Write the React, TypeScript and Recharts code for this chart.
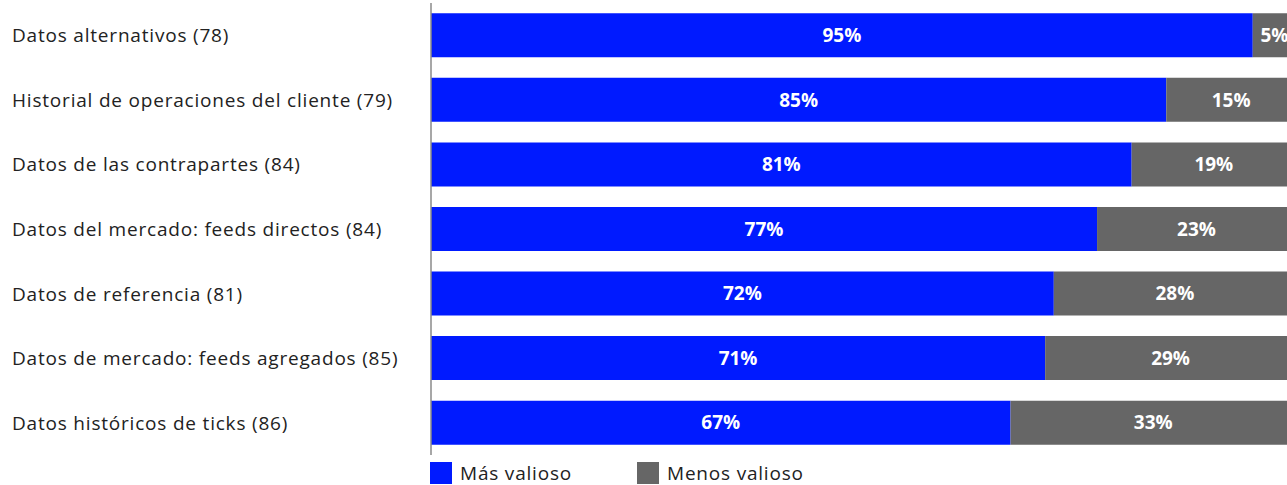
import { BarChart, Bar, XAxis, YAxis, LabelList, Legend } from "recharts";

const categories = [
  "Datos alternativos (78)",
  "Historial de operaciones del cliente (79)",
  "Datos de las contrapartes (84)",
  "Datos del mercado: feeds directos (84)",
  "Datos de referencia (81)",
  "Datos de mercado: feeds agregados (85)",
  "Datos históricos de ticks (86)",
];
const masValioso = [95, 85, 81, 77, 72, 71, 67];
const menosValioso = [5, 15, 19, 23, 28, 29, 33];
const seriesOrder = ["Más valioso", "Menos valioso"];

const BLUE = "#001aff";
const GREY = "#666666";
const FONT = "'Open Sans', sans-serif";

const data = categories.map((name, i) => ({ name, mas: masValioso[i], menos: menosValioso[i] }));

function LeftTick({ y, payload }: any) {
  return (
    <text x={12} y={y} dy={7} textAnchor="start" fill="#222" fontSize={19} letterSpacing={0.8} fontFamily={FONT}>
      {payload.value}
    </text>
  );
}

function LegendContent({ payload }: any) {
  const items = [...(payload || [])].sort((a: any, b: any) => seriesOrder.indexOf(a.value) - seriesOrder.indexOf(b.value));
  return (
    <div style={{ display: "flex", paddingLeft: 430, fontFamily: FONT, fontSize: 19, letterSpacing: 0.8, color: "#222", lineHeight: "24px" }}>
      {items.map((p: any) => (
        <div key={p.value} style={{ display: "flex", alignItems: "center", width: 207 }}>
          <span style={{ width: 22, height: 22, background: p.color, display: "inline-block", marginRight: 8 }} />
          {p.value}
        </div>
      ))}
    </div>
  );
}

const pct = (v: any) => `${v}%`;

export default function App() {
  return (
    <div style={{ position: "absolute", left: 0, top: 0, width: 1287, height: 485, overflow: "hidden", background: "#fff" }}>
      <BarChart
        width={1296}
        height={485}
        data={data}
        layout="vertical"
        barCategoryGap={10.25}
        margin={{ top: 3, right: 0, bottom: 6, left: 0 }}
      >
        <XAxis type="number" domain={[0, 100]} hide />
        <YAxis
          type="category"
          dataKey="name"
          width={431}
          tick={<LeftTick />}
          tickLine={false}
          axisLine={{ stroke: "#8a8a8a", strokeWidth: 1.5 }}
          interval={0}
        />
        <Legend verticalAlign="bottom" content={<LegendContent />} wrapperStyle={{ bottom: 0 }} />
        <Bar dataKey="mas" name="Más valioso" stackId="a" fill={BLUE} isAnimationActive={false}>
          <LabelList dataKey="mas" position="center" formatter={pct} fill="#fff" fontSize={19} fontWeight={700} fontFamily={FONT} />
        </Bar>
        <Bar dataKey="menos" name="Menos valioso" stackId="a" fill={GREY} isAnimationActive={false}>
          <LabelList dataKey="menos" position="center" formatter={pct} fill="#fff" fontSize={19} fontWeight={700} fontFamily={FONT} />
        </Bar>
      </BarChart>
    </div>
  );
}
